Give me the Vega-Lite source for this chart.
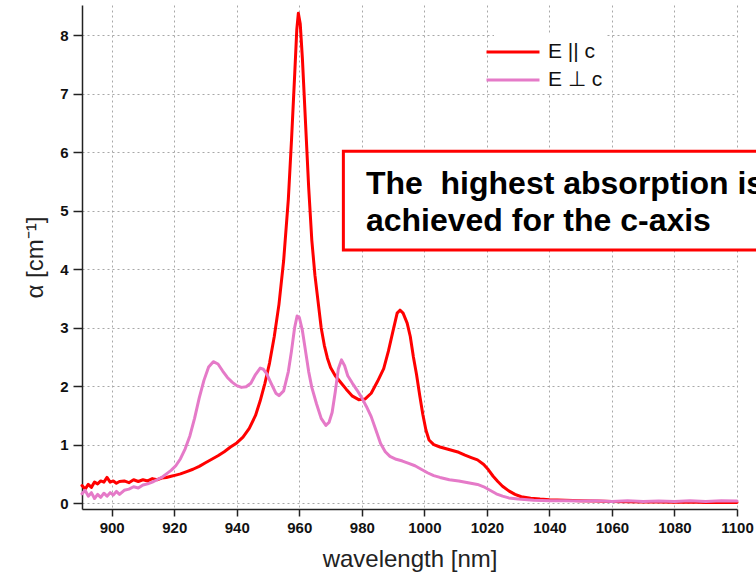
{
  "$schema": "https://vega.github.io/schema/vega-lite/v6.json",
  "width": 655,
  "height": 504,
  "autosize": {"type": "none"},
  "padding": {"left": 82, "top": 5, "right": 19, "bottom": 72},
  "config": {"view": {"stroke": null}, "font": "Liberation Sans"},
  "datasets": {
    "spectra": [
      {"wl": 890.5, "a": 0.30, "s": "E || c"}, {"wl": 891.5, "a": 0.24, "s": "E || c"}, {"wl": 892.5, "a": 0.32, "s": "E || c"},
      {"wl": 893.5, "a": 0.27, "s": "E || c"}, {"wl": 894.5, "a": 0.36, "s": "E || c"}, {"wl": 895.5, "a": 0.33, "s": "E || c"},
      {"wl": 896.5, "a": 0.38, "s": "E || c"}, {"wl": 897.5, "a": 0.36, "s": "E || c"}, {"wl": 898.5, "a": 0.44, "s": "E || c"},
      {"wl": 899.5, "a": 0.36, "s": "E || c"}, {"wl": 900.5, "a": 0.38, "s": "E || c"}, {"wl": 901.5, "a": 0.34, "s": "E || c"},
      {"wl": 902.5, "a": 0.37, "s": "E || c"}, {"wl": 904, "a": 0.38, "s": "E || c"}, {"wl": 905.5, "a": 0.35, "s": "E || c"},
      {"wl": 907, "a": 0.40, "s": "E || c"}, {"wl": 908.5, "a": 0.37, "s": "E || c"}, {"wl": 910, "a": 0.40, "s": "E || c"},
      {"wl": 911.5, "a": 0.38, "s": "E || c"}, {"wl": 913, "a": 0.42, "s": "E || c"}, {"wl": 914.5, "a": 0.40, "s": "E || c"},
      {"wl": 916, "a": 0.43, "s": "E || c"}, {"wl": 917.5, "a": 0.44, "s": "E || c"}, {"wl": 919, "a": 0.46, "s": "E || c"},
      {"wl": 920.5, "a": 0.48, "s": "E || c"}, {"wl": 922, "a": 0.50, "s": "E || c"}, {"wl": 924, "a": 0.54, "s": "E || c"},
      {"wl": 926, "a": 0.58, "s": "E || c"}, {"wl": 928, "a": 0.63, "s": "E || c"}, {"wl": 930, "a": 0.69, "s": "E || c"},
      {"wl": 932, "a": 0.75, "s": "E || c"}, {"wl": 934, "a": 0.81, "s": "E || c"}, {"wl": 936, "a": 0.88, "s": "E || c"},
      {"wl": 938, "a": 0.96, "s": "E || c"}, {"wl": 940, "a": 1.03, "s": "E || c"}, {"wl": 942, "a": 1.13, "s": "E || c"},
      {"wl": 944, "a": 1.28, "s": "E || c"}, {"wl": 946, "a": 1.50, "s": "E || c"}, {"wl": 947.5, "a": 1.75, "s": "E || c"},
      {"wl": 949, "a": 2.05, "s": "E || c"}, {"wl": 950.5, "a": 2.40, "s": "E || c"}, {"wl": 952, "a": 2.85, "s": "E || c"},
      {"wl": 953.5, "a": 3.40, "s": "E || c"}, {"wl": 955, "a": 4.15, "s": "E || c"}, {"wl": 956.5, "a": 5.20, "s": "E || c"},
      {"wl": 957.5, "a": 6.20, "s": "E || c"}, {"wl": 958.5, "a": 7.30, "s": "E || c"}, {"wl": 959.2, "a": 8.10, "s": "E || c"},
      {"wl": 959.7, "a": 8.38, "s": "E || c"}, {"wl": 960.3, "a": 8.20, "s": "E || c"}, {"wl": 961, "a": 7.60, "s": "E || c"},
      {"wl": 962, "a": 6.50, "s": "E || c"}, {"wl": 963, "a": 5.40, "s": "E || c"}, {"wl": 964, "a": 4.50, "s": "E || c"},
      {"wl": 965, "a": 3.90, "s": "E || c"}, {"wl": 966, "a": 3.45, "s": "E || c"}, {"wl": 967, "a": 3.00, "s": "E || c"},
      {"wl": 968, "a": 2.70, "s": "E || c"}, {"wl": 969, "a": 2.48, "s": "E || c"}, {"wl": 970, "a": 2.32, "s": "E || c"},
      {"wl": 971.5, "a": 2.18, "s": "E || c"}, {"wl": 973, "a": 2.08, "s": "E || c"}, {"wl": 975, "a": 1.95, "s": "E || c"},
      {"wl": 977, "a": 1.83, "s": "E || c"}, {"wl": 979, "a": 1.77, "s": "E || c"}, {"wl": 981, "a": 1.78, "s": "E || c"},
      {"wl": 983, "a": 1.88, "s": "E || c"}, {"wl": 985, "a": 2.08, "s": "E || c"}, {"wl": 987, "a": 2.30, "s": "E || c"},
      {"wl": 988.5, "a": 2.60, "s": "E || c"}, {"wl": 990, "a": 2.95, "s": "E || c"}, {"wl": 991.3, "a": 3.25, "s": "E || c"},
      {"wl": 992.2, "a": 3.30, "s": "E || c"}, {"wl": 993.2, "a": 3.25, "s": "E || c"}, {"wl": 994.5, "a": 3.08, "s": "E || c"},
      {"wl": 995.5, "a": 2.85, "s": "E || c"}, {"wl": 996.5, "a": 2.50, "s": "E || c"}, {"wl": 997.5, "a": 2.20, "s": "E || c"},
      {"wl": 998.5, "a": 1.85, "s": "E || c"}, {"wl": 999.5, "a": 1.52, "s": "E || c"}, {"wl": 1000.5, "a": 1.25, "s": "E || c"},
      {"wl": 1001.5, "a": 1.08, "s": "E || c"}, {"wl": 1003, "a": 1.00, "s": "E || c"}, {"wl": 1005, "a": 0.96, "s": "E || c"},
      {"wl": 1007, "a": 0.93, "s": "E || c"}, {"wl": 1009, "a": 0.90, "s": "E || c"}, {"wl": 1011, "a": 0.87, "s": "E || c"},
      {"wl": 1013, "a": 0.82, "s": "E || c"}, {"wl": 1015, "a": 0.78, "s": "E || c"}, {"wl": 1017, "a": 0.74, "s": "E || c"},
      {"wl": 1019, "a": 0.66, "s": "E || c"}, {"wl": 1020.5, "a": 0.57, "s": "E || c"}, {"wl": 1022, "a": 0.46, "s": "E || c"},
      {"wl": 1023.5, "a": 0.37, "s": "E || c"}, {"wl": 1025, "a": 0.29, "s": "E || c"}, {"wl": 1027, "a": 0.21, "s": "E || c"},
      {"wl": 1029, "a": 0.15, "s": "E || c"}, {"wl": 1031, "a": 0.11, "s": "E || c"}, {"wl": 1034, "a": 0.085, "s": "E || c"},
      {"wl": 1037, "a": 0.07, "s": "E || c"}, {"wl": 1040, "a": 0.06, "s": "E || c"}, {"wl": 1045, "a": 0.05, "s": "E || c"},
      {"wl": 1050, "a": 0.04, "s": "E || c"}, {"wl": 1055, "a": 0.035, "s": "E || c"}, {"wl": 1060, "a": 0.03, "s": "E || c"},
      {"wl": 1065, "a": 0.025, "s": "E || c"}, {"wl": 1070, "a": 0.02, "s": "E || c"}, {"wl": 1075, "a": 0.02, "s": "E || c"},
      {"wl": 1080, "a": 0.015, "s": "E || c"}, {"wl": 1085, "a": 0.02, "s": "E || c"}, {"wl": 1090, "a": 0.01, "s": "E || c"},
      {"wl": 1095, "a": 0.015, "s": "E || c"}, {"wl": 1100, "a": 0.01, "s": "E || c"},

      {"wl": 890.5, "a": 0.16, "s": "E ⊥ c"}, {"wl": 891.5, "a": 0.22, "s": "E ⊥ c"}, {"wl": 892.5, "a": 0.12, "s": "E ⊥ c"},
      {"wl": 893.5, "a": 0.18, "s": "E ⊥ c"}, {"wl": 894.5, "a": 0.08, "s": "E ⊥ c"}, {"wl": 895.5, "a": 0.15, "s": "E ⊥ c"},
      {"wl": 896.5, "a": 0.10, "s": "E ⊥ c"}, {"wl": 897.5, "a": 0.17, "s": "E ⊥ c"}, {"wl": 898.5, "a": 0.12, "s": "E ⊥ c"},
      {"wl": 899.5, "a": 0.18, "s": "E ⊥ c"}, {"wl": 900.5, "a": 0.14, "s": "E ⊥ c"}, {"wl": 901.5, "a": 0.20, "s": "E ⊥ c"},
      {"wl": 902.5, "a": 0.15, "s": "E ⊥ c"}, {"wl": 904, "a": 0.22, "s": "E ⊥ c"}, {"wl": 905.5, "a": 0.24, "s": "E ⊥ c"},
      {"wl": 907, "a": 0.28, "s": "E ⊥ c"}, {"wl": 908.5, "a": 0.26, "s": "E ⊥ c"}, {"wl": 910, "a": 0.31, "s": "E ⊥ c"},
      {"wl": 911.5, "a": 0.33, "s": "E ⊥ c"}, {"wl": 913, "a": 0.36, "s": "E ⊥ c"}, {"wl": 914.5, "a": 0.40, "s": "E ⊥ c"},
      {"wl": 916, "a": 0.44, "s": "E ⊥ c"}, {"wl": 917.5, "a": 0.50, "s": "E ⊥ c"}, {"wl": 919, "a": 0.56, "s": "E ⊥ c"},
      {"wl": 920.5, "a": 0.64, "s": "E ⊥ c"}, {"wl": 922, "a": 0.76, "s": "E ⊥ c"}, {"wl": 923.5, "a": 0.93, "s": "E ⊥ c"},
      {"wl": 925, "a": 1.15, "s": "E ⊥ c"}, {"wl": 926.5, "a": 1.45, "s": "E ⊥ c"}, {"wl": 928, "a": 1.80, "s": "E ⊥ c"},
      {"wl": 929.5, "a": 2.10, "s": "E ⊥ c"}, {"wl": 931, "a": 2.33, "s": "E ⊥ c"}, {"wl": 932.5, "a": 2.42, "s": "E ⊥ c"},
      {"wl": 934, "a": 2.38, "s": "E ⊥ c"}, {"wl": 935.5, "a": 2.26, "s": "E ⊥ c"}, {"wl": 937, "a": 2.15, "s": "E ⊥ c"},
      {"wl": 938.5, "a": 2.07, "s": "E ⊥ c"}, {"wl": 940, "a": 2.01, "s": "E ⊥ c"}, {"wl": 941.5, "a": 1.98, "s": "E ⊥ c"},
      {"wl": 943, "a": 1.99, "s": "E ⊥ c"}, {"wl": 944.5, "a": 2.05, "s": "E ⊥ c"}, {"wl": 946, "a": 2.20, "s": "E ⊥ c"},
      {"wl": 947.5, "a": 2.31, "s": "E ⊥ c"}, {"wl": 948.5, "a": 2.29, "s": "E ⊥ c"}, {"wl": 949.5, "a": 2.22, "s": "E ⊥ c"},
      {"wl": 951, "a": 2.05, "s": "E ⊥ c"}, {"wl": 952.5, "a": 1.88, "s": "E ⊥ c"}, {"wl": 953.5, "a": 1.84, "s": "E ⊥ c"},
      {"wl": 955, "a": 1.92, "s": "E ⊥ c"}, {"wl": 956.5, "a": 2.25, "s": "E ⊥ c"}, {"wl": 957.5, "a": 2.60, "s": "E ⊥ c"},
      {"wl": 958.5, "a": 3.00, "s": "E ⊥ c"}, {"wl": 959.3, "a": 3.20, "s": "E ⊥ c"}, {"wl": 960, "a": 3.18, "s": "E ⊥ c"},
      {"wl": 961, "a": 2.95, "s": "E ⊥ c"}, {"wl": 962, "a": 2.60, "s": "E ⊥ c"}, {"wl": 963, "a": 2.25, "s": "E ⊥ c"},
      {"wl": 964, "a": 1.98, "s": "E ⊥ c"}, {"wl": 965.5, "a": 1.70, "s": "E ⊥ c"}, {"wl": 967, "a": 1.45, "s": "E ⊥ c"},
      {"wl": 968.5, "a": 1.33, "s": "E ⊥ c"}, {"wl": 969.5, "a": 1.38, "s": "E ⊥ c"}, {"wl": 970.5, "a": 1.55, "s": "E ⊥ c"},
      {"wl": 971.5, "a": 1.90, "s": "E ⊥ c"}, {"wl": 972.5, "a": 2.30, "s": "E ⊥ c"}, {"wl": 973.5, "a": 2.45, "s": "E ⊥ c"},
      {"wl": 974.5, "a": 2.35, "s": "E ⊥ c"}, {"wl": 975.5, "a": 2.18, "s": "E ⊥ c"}, {"wl": 977, "a": 2.05, "s": "E ⊥ c"},
      {"wl": 978.5, "a": 1.93, "s": "E ⊥ c"}, {"wl": 980, "a": 1.80, "s": "E ⊥ c"}, {"wl": 981.5, "a": 1.65, "s": "E ⊥ c"},
      {"wl": 983, "a": 1.48, "s": "E ⊥ c"}, {"wl": 984.5, "a": 1.25, "s": "E ⊥ c"}, {"wl": 986, "a": 1.02, "s": "E ⊥ c"},
      {"wl": 987.5, "a": 0.88, "s": "E ⊥ c"}, {"wl": 989, "a": 0.80, "s": "E ⊥ c"}, {"wl": 991, "a": 0.75, "s": "E ⊥ c"},
      {"wl": 993, "a": 0.72, "s": "E ⊥ c"}, {"wl": 995, "a": 0.68, "s": "E ⊥ c"}, {"wl": 997, "a": 0.64, "s": "E ⊥ c"},
      {"wl": 999, "a": 0.58, "s": "E ⊥ c"}, {"wl": 1001, "a": 0.52, "s": "E ⊥ c"}, {"wl": 1003, "a": 0.47, "s": "E ⊥ c"},
      {"wl": 1005, "a": 0.44, "s": "E ⊥ c"}, {"wl": 1008, "a": 0.40, "s": "E ⊥ c"}, {"wl": 1011, "a": 0.38, "s": "E ⊥ c"},
      {"wl": 1014, "a": 0.35, "s": "E ⊥ c"}, {"wl": 1017, "a": 0.32, "s": "E ⊥ c"}, {"wl": 1019, "a": 0.28, "s": "E ⊥ c"},
      {"wl": 1021, "a": 0.22, "s": "E ⊥ c"}, {"wl": 1023, "a": 0.16, "s": "E ⊥ c"}, {"wl": 1025, "a": 0.12, "s": "E ⊥ c"},
      {"wl": 1027, "a": 0.09, "s": "E ⊥ c"}, {"wl": 1030, "a": 0.07, "s": "E ⊥ c"}, {"wl": 1035, "a": 0.05, "s": "E ⊥ c"},
      {"wl": 1040, "a": 0.04, "s": "E ⊥ c"}, {"wl": 1045, "a": 0.04, "s": "E ⊥ c"}, {"wl": 1050, "a": 0.035, "s": "E ⊥ c"},
      {"wl": 1055, "a": 0.04, "s": "E ⊥ c"}, {"wl": 1060, "a": 0.03, "s": "E ⊥ c"}, {"wl": 1065, "a": 0.04, "s": "E ⊥ c"},
      {"wl": 1070, "a": 0.03, "s": "E ⊥ c"}, {"wl": 1075, "a": 0.035, "s": "E ⊥ c"}, {"wl": 1080, "a": 0.03, "s": "E ⊥ c"},
      {"wl": 1085, "a": 0.04, "s": "E ⊥ c"}, {"wl": 1090, "a": 0.03, "s": "E ⊥ c"}, {"wl": 1095, "a": 0.04, "s": "E ⊥ c"},
      {"wl": 1100, "a": 0.035, "s": "E ⊥ c"}
    ]
  },
  "layer": [
    {
      "data": {"name": "spectra"},
      "mark": {"type": "line", "strokeWidth": 3, "strokeJoin": "round", "strokeCap": "round"},
      "encoding": {
        "x": {
          "field": "wl",
          "type": "quantitative",
          "scale": {"domain": [890.5, 1100], "nice": false, "zero": false},
          "axis": {
            "title": "wavelength [nm]",
            "titleFont": "Liberation Sans",
            "titleFontSize": 24,
            "titleFontWeight": "normal",
            "titleColor": "#222222",
            "titlePadding": 12,
            "values": [900, 910, 920, 930, 940, 950, 960, 970, 980, 990, 1000, 1010, 1020, 1030, 1040, 1050, 1060, 1070, 1080, 1090, 1100],
            "labelExpr": "datum.value % 20 === 0 ? format(datum.value, 'd') : ''",
            "labelOverlap": false,
            "labelFlush": false,
            "labelFont": "Liberation Sans",
            "labelFontSize": 15,
            "labelFontWeight": "bold",
            "labelColor": "#111111",
            "labelPadding": 4,
            "domainColor": "#222222",
            "domainWidth": 1.5,
            "tickColor": "#222222",
            "tickWidth": 1.5,
            "tickSize": {"condition": {"test": "datum.value % 20 === 0", "value": 7}, "value": 4},
            "grid": true,
            "gridColor": "#a8a8a8",
            "gridDash": [2, 3],
            "gridWidth": 1,
            "gridOpacity": {"condition": {"test": "datum.value % 20 === 0", "value": 1}, "value": 0}
          }
        },
        "y": {
          "field": "a",
          "type": "quantitative",
          "scale": {"domain": [-0.1, 8.52], "nice": false, "zero": false},
          "axis": {
            "title": "α [cm⁻¹]",
            "titleFont": "Liberation Sans",
            "titleFontSize": 24,
            "titleFontWeight": "normal",
            "titleColor": "#222222",
            "titlePadding": 12,
            "values": [0, 0.5, 1, 1.5, 2, 2.5, 3, 3.5, 4, 4.5, 5, 5.5, 6, 6.5, 7, 7.5, 8, 8.5],
            "labelExpr": "datum.value % 1 === 0 ? format(datum.value, 'd') : ''",
            "labelOverlap": false,
            "labelFlush": false,
            "labelFont": "Liberation Sans",
            "labelFontSize": 15,
            "labelFontWeight": "bold",
            "labelColor": "#111111",
            "labelPadding": 5,
            "domainColor": "#222222",
            "domainWidth": 1.5,
            "tickColor": "#222222",
            "tickWidth": 1.5,
            "tickSize": {"condition": {"test": "datum.value % 1 === 0", "value": 9}, "value": 5},
            "grid": true,
            "gridColor": "#a8a8a8",
            "gridDash": [2, 3],
            "gridWidth": 1
          }
        },
        "color": {
          "field": "s",
          "type": "nominal",
          "scale": {"domain": ["E || c", "E ⊥ c"], "range": ["#ff0000", "#e57ac8"]},
          "legend": {
            "orient": "none",
            "legendX": 412,
            "legendY": 28,
            "title": null,
            "symbolType": "M-2,0H2",
            "symbolSize": 702,
            "symbolStrokeWidth": 3,
            "labelFont": "Liberation Sans",
            "labelFontSize": 21,
            "labelColor": "#111111",
            "labelOffset": 20,
            "fillColor": "white",
            "padding": 4,
            "rowPadding": 3
          }
        }
      }
    },
    {
      "data": {"values": [{"kind": "callout"}]},
      "mark": {"type": "rect", "fill": "white", "stroke": "#ff0000", "strokeWidth": 3},
      "encoding": {
        "x": {"datum": 974.1},
        "x2": {"datum": 1115},
        "y": {"datum": 6.02},
        "y2": {"datum": 4.33}
      }
    },
    {
      "data": {"values": [{"kind": "callout"}]},
      "mark": {
        "type": "text",
        "text": ["The\u00a0 highest absorption is", "achieved for the c-axis"],
        "font": "Liberation Sans",
        "fontWeight": "bold",
        "fontSize": 32,
        "lineHeight": 37,
        "align": "left",
        "baseline": "alphabetic",
        "color": "#000000"
      },
      "encoding": {
        "x": {"datum": 981.3},
        "y": {"datum": 5.287}
      }
    }
  ]
}
